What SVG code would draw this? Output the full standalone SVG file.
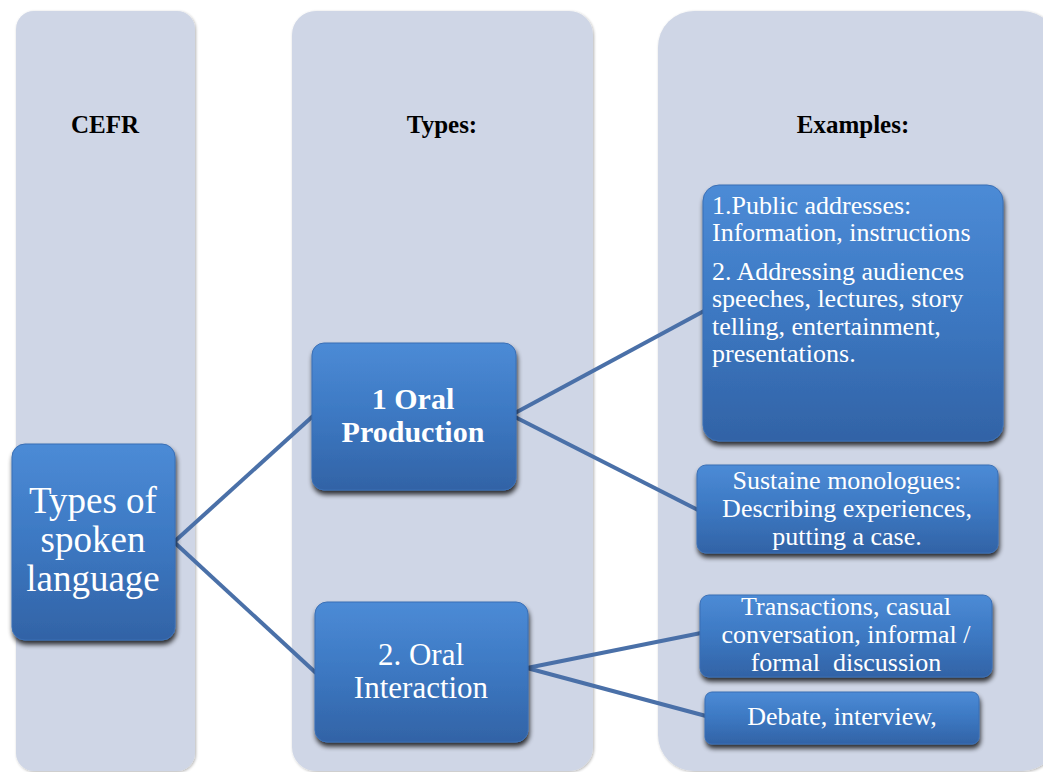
<svg xmlns="http://www.w3.org/2000/svg" width="1043" height="772" viewBox="0 0 1043 772">
<defs>
<linearGradient id="bg" x1="0" y1="0" x2="0" y2="1">
<stop offset="0" stop-color="#4C8BD6"/>
<stop offset="0.5" stop-color="#3C78C2"/>
<stop offset="1" stop-color="#3263A6"/>
</linearGradient>
<filter id="sh" x="-10%" y="-10%" width="125%" height="130%">
<feGaussianBlur in="SourceAlpha" stdDeviation="2.5"/>
<feOffset dx="1" dy="4"/>
<feComponentTransfer><feFuncA type="linear" slope="0.8"/></feComponentTransfer>
<feMerge><feMergeNode/><feMergeNode in="SourceGraphic"/></feMerge>
</filter>
<filter id="csh" x="-5%" y="-5%" width="110%" height="110%">
<feGaussianBlur in="SourceAlpha" stdDeviation="1.5"/>
<feOffset dx="1" dy="1"/>
<feComponentTransfer><feFuncA type="linear" slope="0.3"/></feComponentTransfer>
<feMerge><feMergeNode/><feMergeNode in="SourceGraphic"/></feMerge>
</filter>
</defs>
<style>
.col{fill:#CFD6E6;filter:url(#csh)}
text{font-family:'Liberation Serif','Times New Roman',Times,serif}
.hdr{font-weight:bold;font-size:25px;fill:#000;text-anchor:middle}
.box{fill:url(#bg);stroke:#3A6FB5;stroke-width:1;filter:url(#sh)}
.t{fill:#fff}
.c{text-anchor:middle}
.conn{stroke:#4A70A8;stroke-width:4;fill:none;stroke-linecap:butt}
</style>
<g id="columns">
<rect class="col" x="16" y="11" width="179" height="760" rx="18"/>
<rect class="col" x="292" y="11" width="301" height="760" rx="24"/>
<rect class="col" x="658" y="11" width="400" height="760" rx="36"/>
<text class="hdr" x="105" y="133">CEFR</text>
<text class="hdr" x="442" y="133">Types:</text>
<text class="hdr" x="853" y="133">Examples:</text>
</g>
<g id="connectors">
<line class="conn" x1="174" y1="542" x2="313" y2="416"/>
<line class="conn" x1="174" y1="542" x2="316" y2="673"/>
<line class="conn" x1="515" y1="413" x2="704" y2="311"/>
<line class="conn" x1="515" y1="417" x2="698" y2="510"/>
<line class="conn" x1="527" y1="668" x2="701" y2="633"/>
<line class="conn" x1="527" y1="668" x2="706" y2="716"/>
</g>
<g id="node-spoken">
<rect class="box" x="12" y="444" width="163" height="196" rx="13"/>
<text class="t c" font-size="37" x="93" y="513">Types of</text>
<text class="t c" font-size="37" x="93" y="552">spoken</text>
<text class="t c" font-size="37" x="93" y="591">language</text>
</g>
<g id="node-production">
<rect class="box" x="312" y="343" width="204" height="147" rx="12"/>
<text class="t c" font-size="30" font-weight="bold" x="413" y="409">1 Oral</text>
<text class="t c" font-size="30" font-weight="bold" x="413" y="442">Production</text>
</g>
<g id="node-interaction">
<rect class="box" x="315" y="602" width="213" height="140" rx="12"/>
<text class="t c" font-size="31" x="421" y="665">2. Oral</text>
<text class="t c" font-size="31" x="421" y="698">Interaction</text>
</g>
<g id="node-public">
<rect class="box" x="703" y="185" width="300" height="256" rx="16"/>
<text class="t" font-size="26" x="712" y="214">1.Public addresses:</text>
<text class="t" font-size="26" x="712" y="241">Information, instructions</text>
<text class="t" font-size="26" x="712" y="280">2. Addressing audiences</text>
<text class="t" font-size="26" x="712" y="307">speeches, lectures, story</text>
<text class="t" font-size="26" x="712" y="335">telling, entertainment,</text>
<text class="t" font-size="26" x="712" y="362">presentations.</text>
</g>
<g id="node-monologues">
<rect class="box" x="697" y="465" width="301" height="88" rx="9"/>
<text class="t c" font-size="26" x="847" y="489">Sustaine monologues:</text>
<text class="t c" font-size="26" x="847" y="517">Describing experiences,</text>
<text class="t c" font-size="26" x="847" y="545">putting a case.</text>
</g>
<g id="node-transactions">
<rect class="box" x="700" y="595" width="292" height="82" rx="9"/>
<text class="t c" font-size="26" x="846" y="615">Transactions, casual</text>
<text class="t c" font-size="26" x="846" y="643">conversation, informal /</text>
<text class="t c" font-size="26" x="846" y="671" style="white-space:pre">formal  discussion</text>
</g>
<g id="node-debate">
<rect class="box" x="705" y="692" width="274" height="52" rx="7"/>
<text class="t c" font-size="26" x="842" y="725">Debate, interview,</text>
</g>
</svg>
